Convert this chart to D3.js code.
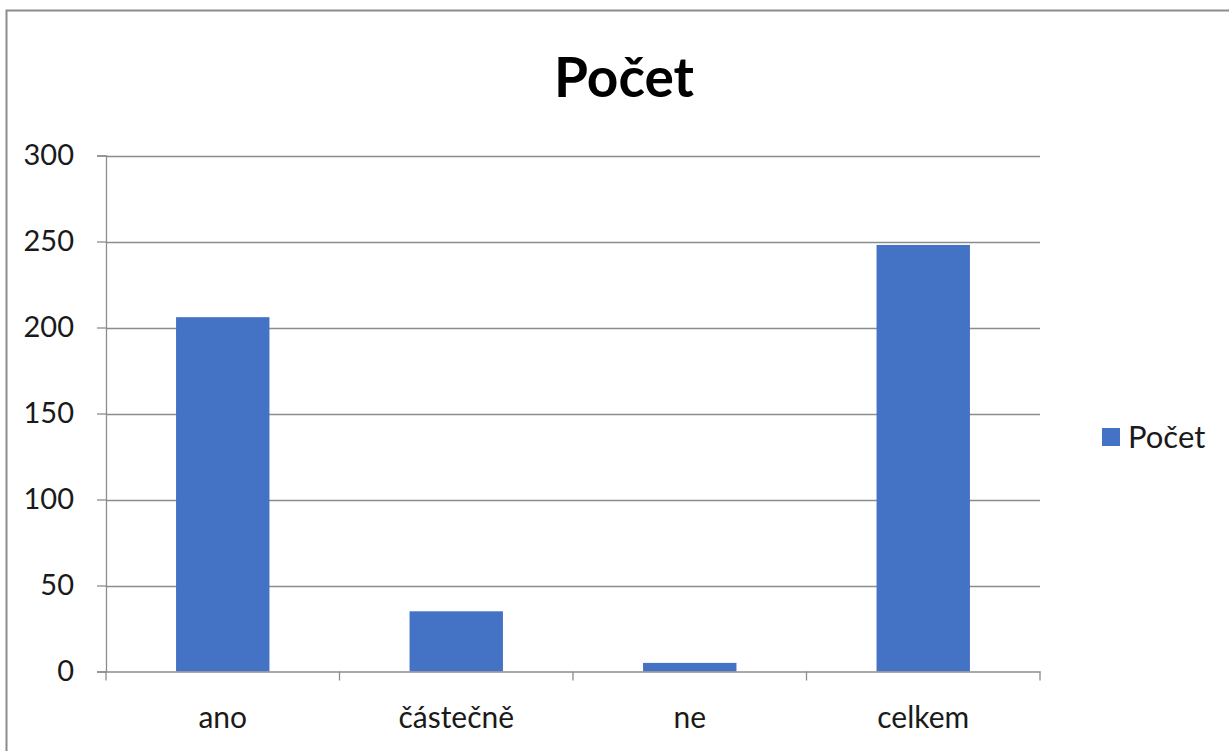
<!DOCTYPE html>
<html><head><meta charset="utf-8">
<script src="https://cdn.jsdelivr.net/npm/d3@7"></script>
<style>body{margin:0;background:#fff}svg{display:block}text{font-family:Lato,"Open Sans",sans-serif}</style>
</head><body>
<script>
const categories = ["ano","částečně","ne","celkem"];
const values = [206, 35, 5, 248];
const yTicks = [0,50,100,150,200,250,300];
const seriesName = "Počet";
const chartTitle = "Počet";

(function(){
const W=1229,H=751;
const svg=d3.select("body").append("svg").attr("width",W).attr("height",H);
svg.append("rect").attr("x",6.5).attr("y",10.5).attr("width",W+10).attr("height",H+10)
  .attr("fill","#fff").attr("stroke","#8c8c8c").attr("stroke-width",2);

const pLeft=106,pRight=1040,pTop=155.5,pBottom=671.5;
const x=d3.scaleBand().domain(categories).range([pLeft,pRight]).paddingInner(0.6).paddingOuter(0.3);
const y=d3.scaleLinear().domain([0,300]).range([pBottom,pTop]);

// gridlines
svg.append("g").selectAll("line").data(yTicks.slice(1)).join("line")
  .attr("x1",pLeft).attr("x2",pRight).attr("y1",d=>Math.round(y(d))+0.5).attr("y2",d=>Math.round(y(d))+0.5)
  .attr("stroke","#8c8c8c").attr("stroke-width",1.3);

// bars
svg.append("g").selectAll("rect").data(values).join("rect")
  .attr("x",(d,i)=>x(categories[i])).attr("width",x.bandwidth())
  .attr("y",d=>y(d)).attr("height",d=>y(0)-y(d)).attr("fill","#4472c4");

// y axis
const ya=svg.append("g").attr("transform",`translate(${pLeft},0)`).call(d3.axisLeft(y).tickValues(yTicks).tickSize(9).tickPadding(23));
ya.select(".domain").attr("stroke","#8c8c8c").attr("stroke-width",1.3);
ya.selectAll(".tick line").attr("stroke","#8c8c8c").attr("stroke-width",1.3);
ya.selectAll(".tick text").attr("font-size",29).attr("fill","#1a1a1a").attr("font-family","Lato,sans-serif");

// x axis
const xa=svg.append("g").attr("transform",`translate(0,${pBottom})`).call(d3.axisBottom(x).tickSize(0).tickPadding(35));
xa.select(".domain").attr("stroke","#8c8c8c").attr("stroke-width",1.3);
xa.selectAll(".tick text").attr("font-size",30).attr("fill","#1a1a1a").attr("font-family","Lato,sans-serif");
const bounds=d3.range(categories.length+1).map(i=>pLeft+i*x.step());
svg.append("g").selectAll("line").data(bounds).join("line")
  .attr("x1",d=>d).attr("x2",d=>d).attr("y1",pBottom).attr("y2",pBottom+9)
  .attr("stroke","#8c8c8c").attr("stroke-width",1.3);

// title
svg.append("text").attr("x",624).attr("y",97).attr("text-anchor","middle")
  .attr("font-size",55).attr("font-weight","bold").attr("fill","#000").text(chartTitle);

// legend
svg.append("rect").attr("x",1102).attr("y",428).attr("width",18).attr("height",18).attr("fill","#4472c4");
svg.append("text").attr("x",1128).attr("y",448).attr("font-size",31).attr("fill","#1a1a1a").text(seriesName);
})();
</script>
</body></html>
